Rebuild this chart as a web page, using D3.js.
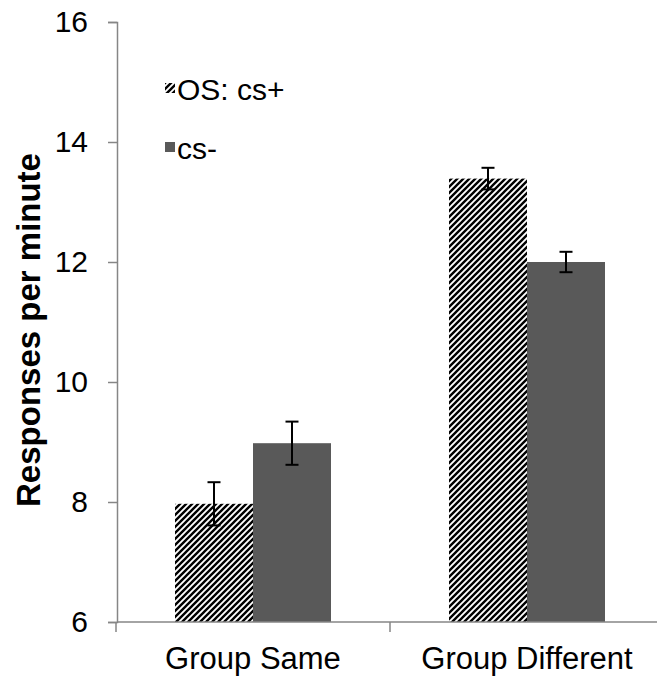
<!DOCTYPE html>
<html>
<head>
<meta charset="utf-8">
<script src="https://cdn.jsdelivr.net/npm/d3@7"></script>
<style>
  body { margin: 0; background: #fff; }
  text { font-family: "Liberation Sans", Arial, sans-serif; }
</style>
</head>
<body>
<svg id="chart" width="657" height="681"></svg>
<script>

const groups = ['Group Same', 'Group Different']
const series = ['OS: cs+', 'cs-']

// mean responses per minute, per group, per series
const csPlus = [7.97, 13.39]
const csMinus = [8.98, 12.0]

// error bar half-heights
const csPlusErr = [0.36, 0.18]
const csMinusErr = [0.36, 0.17]

const yTicks = [6, 8, 10, 12, 14, 16]

const width = 657
const height = 681

const svg = d3.select('#chart')

// hatch pattern for cs+
const defs = svg.append('defs')
const pat = defs.append('pattern')
    .attr('id', 'hatch')
    .attr('patternUnits', 'userSpaceOnUse')
    .attr('width', 6)
    .attr('height', 6)
pat.append('rect').attr('width', 6).attr('height', 6).attr('fill', '#fff')
pat.append('path')
    .attr('d', 'M-1.5,1.5 L1.5,-1.5 M0,6 L6,0 M4.5,7.5 L7.5,4.5')
    .attr('stroke', '#000')
    .attr('stroke-width', 2.4)

const fills = ['url(#hatch)', '#595959']

const yScale = d3.scaleLinear()
    .domain([6, 16])
    .range([622, 22])

// category bands, the plot runs a little past the right edge
const xScale = d3.scaleBand()
    .domain(groups)
    .range([116, 664])

const xInner = d3.scaleBand()
    .domain(series)
    .range([59, 215])

const data = []
groups.forEach((g, i) => {
    data.push({ group: g, series: series[0], value: csPlus[i], err: csPlusErr[i] })
    data.push({ group: g, series: series[1], value: csMinus[i], err: csMinusErr[i] })
})

// y axis
const yAxis = d3.axisLeft(yScale)
    .tickValues(yTicks)
    .tickSize(9)
    .tickPadding(20)
    .tickFormat(d3.format('d'))

const gy = svg.append('g')
    .attr('transform', 'translate(117,0)')
    .call(yAxis)
gy.select('.domain').attr('stroke', '#868686').attr('stroke-width', 1.5)
gy.selectAll('.tick line').attr('stroke', '#868686').attr('stroke-width', 1.5)
gy.selectAll('.tick text')
    .attr('fill', '#000')
    .style('font-size', '30px')

// bars
svg.selectAll('rect.bar')
    .data(data)
    .enter()
    .append('rect')
    .attr('class', 'bar')
    .attr('x', d => xScale(d.group) + xInner(d.series))
    .attr('width', xInner.bandwidth())
    .attr('y', d => yScale(d.value))
    .attr('height', d => yScale(6) - yScale(d.value))
    .attr('fill', d => fills[series.indexOf(d.series)])

// error bars
const eb = svg.selectAll('g.err')
    .data(data)
    .enter()
    .append('g')
    .attr('class', 'err')
    .attr('stroke', '#000')
    .attr('stroke-width', 2)

const cx = d => xScale(d.group) + xInner(d.series) + xInner.bandwidth() / 2

eb.append('line')
    .attr('x1', cx).attr('x2', cx)
    .attr('y1', d => yScale(d.value + d.err))
    .attr('y2', d => yScale(d.value - d.err))
eb.append('line')
    .attr('x1', d => cx(d) - 6.5).attr('x2', d => cx(d) + 6.5)
    .attr('y1', d => yScale(d.value + d.err))
    .attr('y2', d => yScale(d.value + d.err))
eb.append('line')
    .attr('x1', d => cx(d) - 6.5).attr('x2', d => cx(d) + 6.5)
    .attr('y1', d => yScale(d.value - d.err))
    .attr('y2', d => yScale(d.value - d.err))

// x axis
svg.append('line')
    .attr('x1', 117).attr('x2', width)
    .attr('y1', yScale(6)).attr('y2', yScale(6))
    .attr('stroke', '#868686')
    .attr('stroke-width', 1.5)

svg.selectAll('line.xtick')
    .data(groups)
    .enter()
    .append('line')
    .attr('class', 'xtick')
    .attr('x1', d => xScale(d)).attr('x2', d => xScale(d))
    .attr('y1', yScale(6)).attr('y2', yScale(6) + 10)
    .attr('stroke', '#868686')
    .attr('stroke-width', 1.5)

svg.selectAll('text.xlabel')
    .data(groups)
    .enter()
    .append('text')
    .attr('class', 'xlabel')
    .attr('x', d => xScale(d) + xScale.bandwidth() / 2)
    .attr('y', 669)
    .attr('text-anchor', 'middle')
    .style('font-size', '31px')
    .text(d => d)

// y title
svg.append('text')
    .attr('transform', 'translate(40,330) rotate(-90)')
    .attr('text-anchor', 'middle')
    .style('font-size', '33px')
    .style('font-weight', 'bold')
    .text('Responses per minute')

// legend
const legend = svg.selectAll('g.legend')
    .data(series)
    .enter()
    .append('g')
    .attr('class', 'legend')
    .attr('transform', (d, i) => 'translate(165,' + (83 + i * 59) + ')')

legend.append('rect')
    .attr('width', 10)
    .attr('height', 10)
    .attr('fill', (d, i) => fills[i])

legend.append('text')
    .attr('x', 12)
    .attr('y', 17)
    .style('font-size', '30px')
    .text(d => d)

</script>
</body>
</html>
